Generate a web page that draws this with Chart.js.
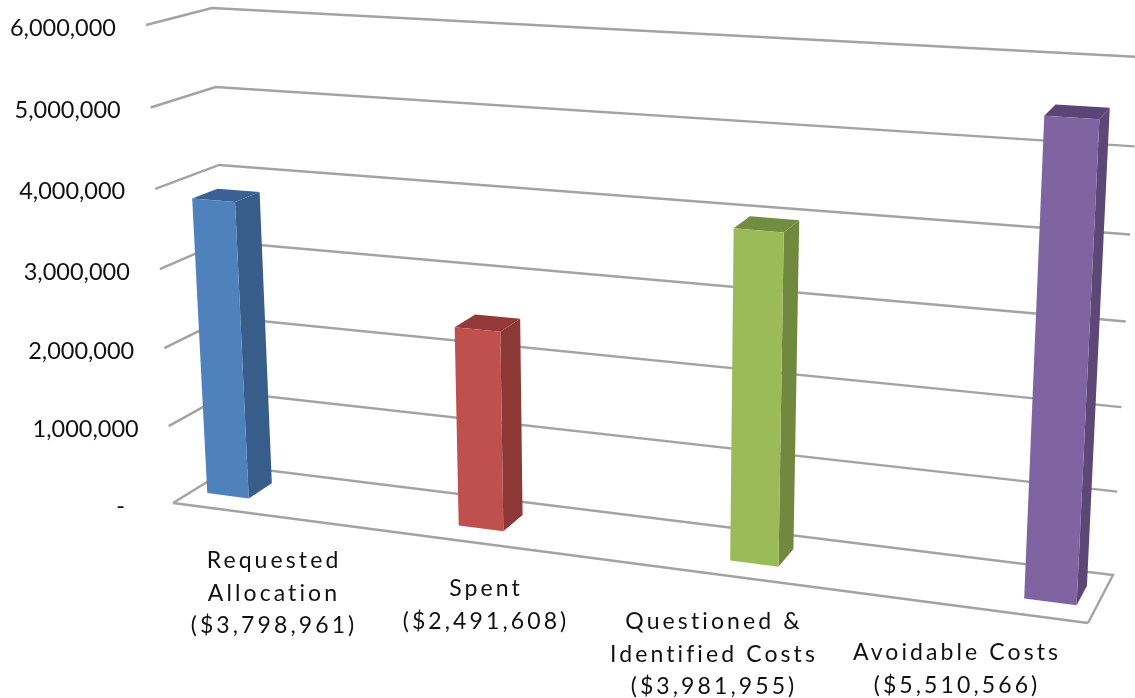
<!DOCTYPE html>
<html>
<head>
<meta charset="utf-8">
<title>Allocation and costs</title>
<script src="https://cdn.jsdelivr.net/npm/chart.js@4/dist/chart.umd.js"></script>
<style>
  html, body { margin: 0; padding: 0; background: #fff; overflow: hidden; }
  canvas { display: block; }
</style>
</head>
<body>
<canvas id="costChart" width="1135" height="698"></canvas>
<script>
// Chart data
const categories = ['Requested Allocation', 'Spent', 'Questioned & Identified Costs', 'Avoidable Costs'];
const amounts = [3798961, 2491608, 3981955, 5510566];
const categoryLines = [
    ['Requested', 'Allocation', '($3,798,961)'],
    ['Spent', '($2,491,608)'],
    ['Questioned &', 'Identified Costs', '($3,981,955)'],
    ['Avoidable Costs', '($5,510,566)']
];
const frontColors = ['#4F81BD', '#C0504D', '#9BBB59', '#8064A2'];
const sideColors = ['#385D8A', '#8C3836', '#71893F', '#5C4776'];
const topColors = ['#3A6196', '#93393A', '#728C42', '#5B4478'];

// Where the category captions sit below the floor: centre x and first line y
const captionXs = [274, 486, 714, 957];
const captionTops = [561, 589, 622, 653];
const captionLineHeight = 32.5;

// Corners of the 3D box: f = front, b = back, l = left, r = right, 0 = floor, 1 = top
const box = {
    fl0: [173, 503], fr0: [1088, 623], bl0: [233, 466], br0: [1113, 575],
    fl1: [146, 25], fr1: [1114, 84], bl1: [212, 8], br1: [1139, 57]
};

// Bars sit between these depths on the floor
const barDepth = [0.32, 0.72];

function lerp(a, b, t) {
    return a + (b - a) * t;
}

// Foreshortening along the category axis
function warpU(u) {
    return (1.053 * u - 0.0928) / (1 - 0.1455 * u);
}

// Foreshortening up the value axis
function warpV(v) {
    return v / (v + (1 - v) * 1.043);
}

// u across, v up, z into the page, all 0..1
function project(u, v, z) {
    const h = warpV(v);
    return [0, 1].map(i => {
        const floor = lerp(lerp(box.fl0[i], box.fr0[i], u), lerp(box.bl0[i], box.br0[i], u), z);
        const top = lerp(lerp(box.fl1[i], box.fr1[i], u), lerp(box.bl1[i], box.br1[i], u), z);
        return lerp(floor, top, h);
    });
}

function fillQuad(ctx, pts, fill) {
    ctx.beginPath();
    pts.forEach((p, i) => i ? ctx.lineTo(p[0], p[1]) : ctx.moveTo(p[0], p[1]));
    ctx.closePath();
    ctx.fillStyle = fill;
    ctx.fill();
}

function strokeLine(ctx, pts) {
    ctx.beginPath();
    pts.forEach((p, i) => i ? ctx.lineTo(p[0], p[1]) : ctx.moveTo(p[0], p[1]));
    ctx.strokeStyle = '#A3A3A3';
    ctx.lineWidth = 2.4;
    ctx.lineJoin = 'miter';
    ctx.stroke();
}

// Draws walls, floor, bars and labels in perspective, using the chart's own scales
const perspectivePlugin = {
    id: 'perspective',
    beforeDatasetsDraw(chart) {
        const ctx = chart.ctx;
        const xScale = chart.scales.x;
        const yScale = chart.scales.y;
        const toV = px => (yScale.bottom - px) / (yScale.bottom - yScale.top);
        const toU = px => (px - xScale.left) / (xScale.right - xScale.left);

        ctx.save();

        // value axis gridlines and labels
        yScale.ticks.forEach(tick => {
            const v = toV(yScale.getPixelForValue(tick.value));
            const start = project(0, v, 0);
            if (tick.value === 0) {
                strokeLine(ctx, [project(0, 0, 0), project(0, 0, 1), project(1, 0, 1), project(1, 0, 0)]);
                strokeLine(ctx, [project(1, 0, 0), project(0, 0, 0)]);
            } else {
                strokeLine(ctx, [start, project(0, v, 1), project(1, v, 1)]);
            }
            ctx.font = '23.5px Lato';
            ctx.fillStyle = '#111';
            ctx.textAlign = 'right';
            ctx.textBaseline = 'middle';
            ctx.letterSpacing = '0px';
            ctx.fillText(tick.label, start[0] - 30, start[1] + 3);
        });

        // bars
        chart.getDatasetMeta(0).data.forEach((bar, i) => {
            const u0 = warpU(toU(bar.x - bar.width / 2));
            const u1 = warpU(toU(bar.x + bar.width / 2));
            const v0 = toV(bar.base);
            const v1 = toV(bar.y);
            const [z0, z1] = barDepth;
            fillQuad(ctx, [project(u1, v0, z0), project(u1, v1, z0), project(u1, v1, z1), project(u1, v0, z1)], sideColors[i]);
            fillQuad(ctx, [project(u0, v1, z0), project(u1, v1, z0), project(u1, v1, z1), project(u0, v1, z1)], topColors[i]);
            fillQuad(ctx, [project(u0, v0, z0), project(u1, v0, z0), project(u1, v1, z0), project(u0, v1, z0)], frontColors[i]);
        });

        // category captions
        ctx.font = '23px Lato';
        ctx.fillStyle = '#111';
        ctx.textAlign = 'center';
        ctx.textBaseline = 'middle';
        ctx.letterSpacing = '3.1px';
        categoryLines.forEach((lines, i) => {
            lines.forEach((line, j) => {
                ctx.fillText(line, captionXs[i], captionTops[i] + j * captionLineHeight);
            });
        });

        ctx.restore();
        return false; // bars already drawn above
    }
};

new Chart(document.getElementById('costChart'), {
    type: 'bar',
    plugins: [perspectivePlugin],
    data: {
        labels: categories,
        datasets: [{
            data: amounts,
            backgroundColor: frontColors,
            categoryPercentage: 1,
            barPercentage: 0.17
        }]
    },
    options: {
        responsive: false,
        animation: false,
        plugins: {
            legend: { display: false },
            tooltip: { enabled: false }
        },
        scales: {
            x: {
                grid: { display: false },
                border: { display: false },
                ticks: { display: false }
            },
            y: {
                min: 0,
                max: 6000000,
                grid: { display: false },
                border: { display: false },
                ticks: {
                    display: false,
                    stepSize: 1000000,
                    callback: value => value === 0 ? '-   ' : value.toLocaleString('en-US')
                }
            }
        }
    }
});
</script>
</body>
</html>
